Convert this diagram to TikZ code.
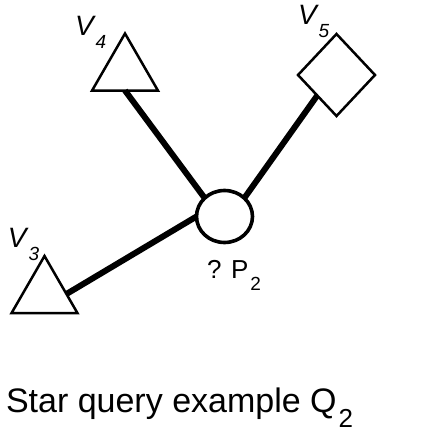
\documentclass[tikz,border=0pt]{standalone}
\usepackage{fontspec}
\setmainfont{Liberation Sans}
\usetikzlibrary{shapes.geometric}

% lowered index: drop, size, text
\newcommand{\lowsub}[3]{\kern2pt\raisebox{-#1pt}{\fontsize{#2}{#2}\selectfont #3}}

\begin{document}
\begin{tikzpicture}[
  x=1pt, y=-1pt,
  every node/.style={inner sep=0pt, outer sep=0pt},
  vert/.style={draw, line width=2.5pt, regular polygon, regular polygon sides=3, minimum size=76pt},
  cand/.style={draw, line width=2.5pt, diamond, minimum width=77pt, minimum height=82pt},
  hub/.style={draw, line width=3.6pt, ellipse, minimum width=56pt, minimum height=52pt},
  edge/.style={line width=6pt},
  lab/.style={anchor=base west, font=\fontsize{28}{28}\selectfont\itshape}
]
\useasboundingbox (0,0) rectangle (431,431);

% =======================
% Star: centre and leaves
% =======================
\node[hub] (P2) at (224.5,216.5) {};

\node[vert] (V4) at (125,71.5) {};
\node[cand] (V5) at (336.5,75) {};
\node[vert] (V3) at (44.5,294) {};

% Spokes
\draw[edge] (V4.south) -- (P2.north west);
\draw[edge] (V5.south west) -- (P2.north east);
\draw[edge] (V3.east) -- (P2.west);

% =======================
% Labels
% =======================
\node[lab] (V4lab) at (75,35) {V\lowsub{13}{19}{4}};
\node[lab] (V5lab) at (298,24) {V\lowsub{13}{19}{5}};
\node[lab] (V3lab) at (8,247) {V\lowsub{13}{19}{3}};

\node[anchor=base west, font=\fontsize{26}{26}\selectfont] (P2lab) at (207,278) {? P\lowsub{12}{19}{2}};

% Caption
\node[anchor=base west, font=\fontsize{34}{34}\selectfont] (caption) at (6,412) {Star query example Q\lowsub{15}{26}{2}};
\end{tikzpicture}
\end{document}
